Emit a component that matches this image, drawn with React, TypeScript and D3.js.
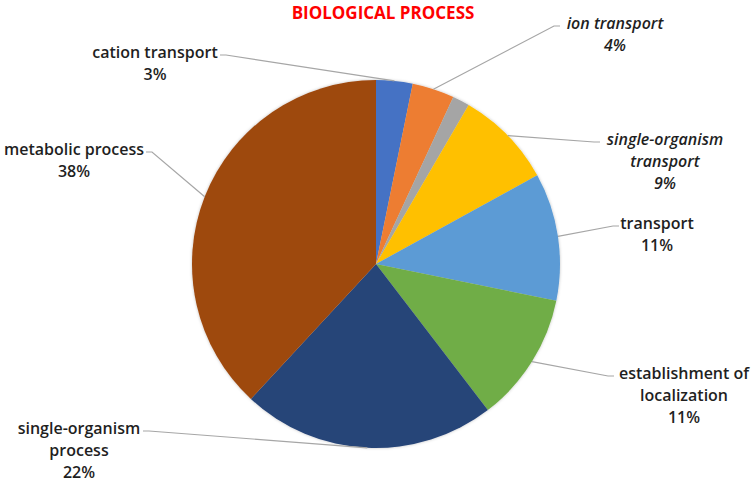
import * as d3 from 'd3';

const categories = [
  'cation transport',
  'ion transport',
  'other',
  'single-organism transport',
  'transport',
  'establishment of localization',
  'single-organism process',
  'metabolic process',
];
const values = [3.2, 3.7, 1.5, 8.6, 11.2, 11.4, 22.3, 38.1];
const colors = ['#4472C4', '#ED7D31', '#A5A5A5', '#FFC000', '#5B9BD5', '#70AD47', '#264478', '#9E480E'];
// label text lines (null = no label shown)
const labelLines: (string[] | null)[] = [
  ['cation transport'],
  ['ion transport'],
  null,
  ['single-organism', 'transport'],
  ['transport'],
  ['establishment of', 'localization'],
  ['single-organism', 'process'],
  ['metabolic process'],
];
const italicLabels = [false, true, false, true, false, false, false, false];

// layout: text center x, first baseline y, elbow point of the leader line
const labelPos = [
  { x: 155, y: 58, ex: 220, side: 'left' },
  { x: 615, y: 29, ex: 560, side: 'right' },
  null,
  { x: 665, y: 145, ex: 600, side: 'right' },
  { x: 657, y: 229, ex: 619, side: 'right' },
  { x: 684, y: 379, ex: 614, side: 'right' },
  { x: 79, y: 434, ex: 143, side: 'left' },
  { x: 74, y: 155, ex: 146, side: 'left' },
];

const width = 756;
const height = 483;
const cx = 376;
const cy = 264;
const radius = 184;

export default function App() {
  const total = d3.sum(values);
  const pie = d3.pie<number>().sort(null).value(d => d);
  const arcs = pie(values);
  const arc = d3.arc<d3.PieArcDatum<number>>().innerRadius(0).outerRadius(radius);
  const rim = d3.arc<d3.PieArcDatum<number>>().innerRadius(radius).outerRadius(radius);

  return (
    <svg width={width} height={height} style={{ position: 'absolute', left: 0, top: 0 }}>
      <defs>
        <filter id="shadow" x="-10%" y="-10%" width="120%" height="120%">
          <feDropShadow dx="0" dy="0" stdDeviation="1.5" floodColor="#000" floodOpacity="0.25" />
        </filter>
      </defs>
      <text x={383} y={19} textAnchor="middle" fill="#FF0000"
        style={{ font: '700 17px "Open Sans", sans-serif' }}>BIOLOGICAL PROCESS</text>

      <g transform={`translate(${cx},${cy})`} filter="url(#shadow)">
        {arcs.map((a, i) => (
          <path key={i} d={arc(a) || ''} fill={colors[i]} />
        ))}
      </g>

      {arcs.map((a, i) => {
        const lp = labelPos[i];
        const lines = labelLines[i];
        if (!lp || !lines) return null;
        const [px, py] = rim.centroid(a);
        const x1 = cx + px;
        const y1 = cy + py;
        const ey = lp.y - 3;
        const ex2 = lp.side === 'left' ? lp.ex + 6 : lp.ex - 6;
        const pct = Math.round((values[i] / total) * 100) + '%';
        const all = [...lines, pct];
        return (
          <g key={'l' + i}>
            <polyline points={`${lp.ex},${ey} ${ex2},${ey} ${x1},${y1}`}
              fill="none" stroke="#A6A6A6" strokeWidth={1.2} />
            {all.map((t, j) => (
              <text key={j} x={lp.x} y={lp.y + j * 22} textAnchor="middle" fill="#1f1f1f"
                style={{ font: `${italicLabels[i] ? 'italic ' : ''}600 16px "Open Sans", sans-serif` }}>{t}</text>
            ))}
          </g>
        );
      })}
    </svg>
  );
}
